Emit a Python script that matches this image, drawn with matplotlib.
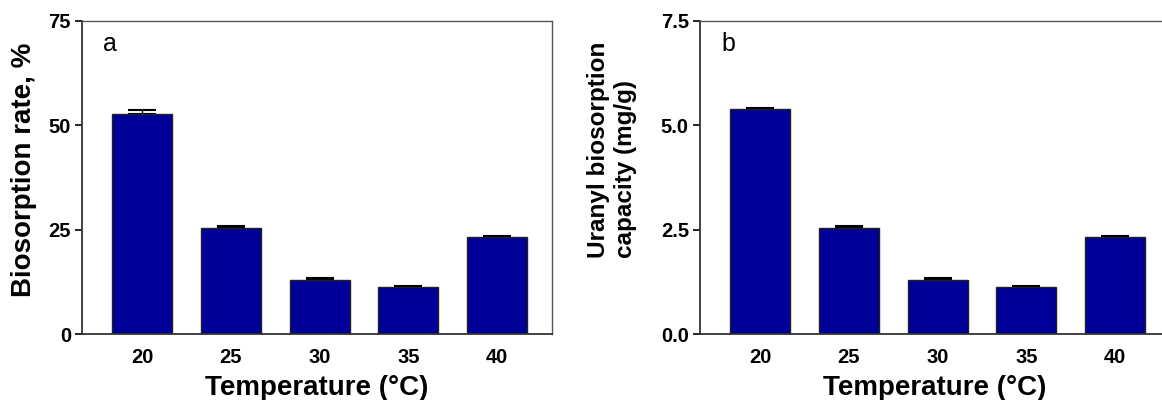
import numpy as np
import matplotlib.pyplot as plt

plt.rcParams['font.family'] = ['Liberation Sans', 'DejaVu Sans']

temps = ['20', '25', '30', '35', '40']
rate = [52.7, 25.5, 13.0, 11.2, 23.2]
rate_err = [1.0, 0.3, 0.3, 0.3, 0.3]
capacity = [5.38, 2.55, 1.30, 1.12, 2.32]
capacity_err = [0.03, 0.03, 0.03, 0.03, 0.03]

fig = plt.figure(figsize=(11.62, 4), dpi=100)
ax1 = fig.add_axes([82 / 1162, 66 / 400, 470 / 1162, 313 / 400])
ax2 = fig.add_axes([700 / 1162, 66 / 400, 470 / 1162, 313 / 400])

x = np.arange(len(temps))
bar_color = '#000099'


def draw(ax, vals, errs, ymax, yticks, fmt, letter, ylabel, ylsize, ylx, yly):
    ax.bar(x, vals, width=0.68, color=bar_color, edgecolor='#222222', linewidth=1.0, zorder=2)
    ax.errorbar(x, vals, yerr=[np.zeros(len(errs)), errs], fmt='none', ecolor='black',
                elinewidth=1.0, capsize=10, capthick=1.5, zorder=1)
    ax.set_xlim(-0.68, 4.62)
    ax.set_ylim(0, ymax)
    ax.set_yticks(yticks)
    ax.set_yticklabels([fmt.format(v) for v in yticks])
    ax.set_xticks(x)
    ax.set_xticklabels(temps)
    ax.tick_params(axis='x', length=0, pad=10, labelsize=14.5)
    ax.tick_params(axis='y', direction='out', length=5, width=1.2, labelsize=14.5, pad=3)
    for lab in ax.get_xticklabels() + ax.get_yticklabels():
        lab.set_fontweight('bold')
    for s in ['left', 'bottom']:
        ax.spines[s].set_linewidth(1.3)
        ax.spines[s].set_color('#333333')
    for s in ['top', 'right']:
        ax.spines[s].set_linewidth(1.0)
        ax.spines[s].set_color('#555555')
    ax.set_xlabel('Temperature (\u00b0C)', fontsize=20, fontweight='bold', labelpad=6)
    ax.set_ylabel(ylabel, fontsize=ylsize, fontweight='bold', linespacing=1.25,
                  multialignment='left')
    ax.yaxis.set_label_coords(ylx, yly)
    ax.text(0.045, 0.905, letter, transform=ax.transAxes, fontsize=18, va='baseline')


draw(ax1, rate, rate_err, 75, [0, 25, 50, 75], '{:.0f}', 'a', 'Biosorption rate, %', 20,
     -0.096, 0.524)
draw(ax2, capacity, capacity_err, 7.5, [0, 2.5, 5.0, 7.5], '{:.1f}', 'b',
     'Uranyl biosorption\ncapacity (mg/g)', 17.5, -0.134, 0.588)

fig.savefig('out.png', dpi=100)
